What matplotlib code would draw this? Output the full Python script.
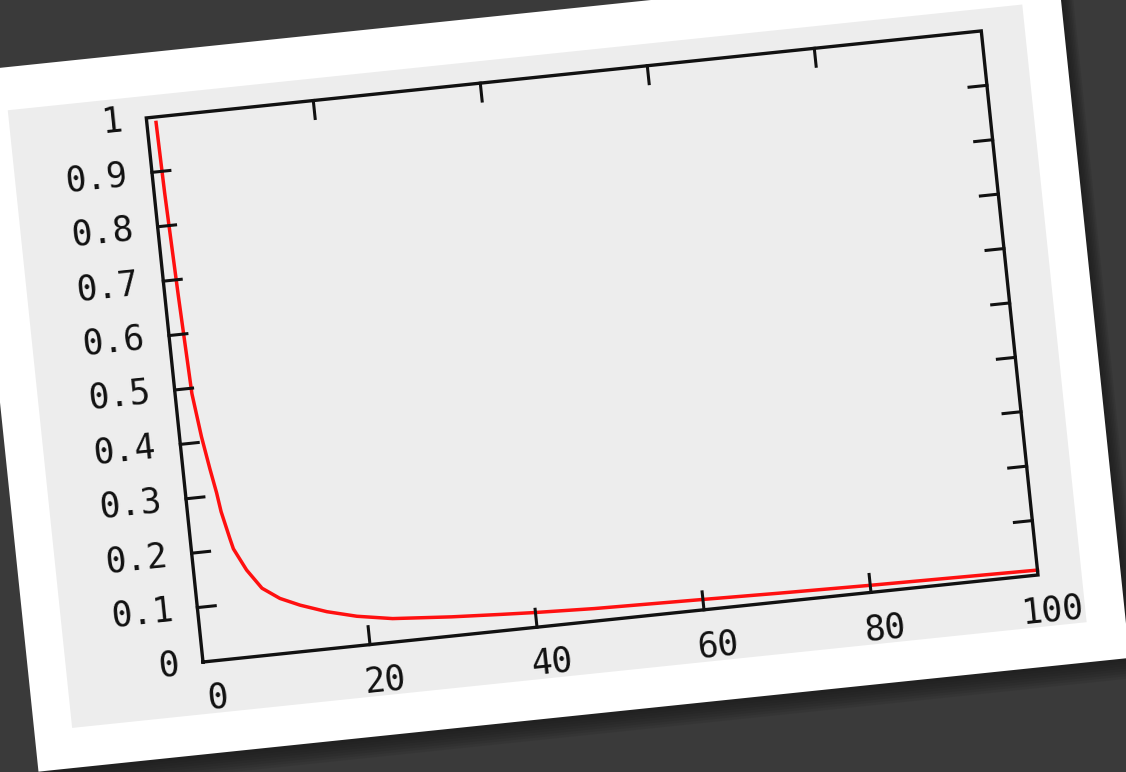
import numpy as np
import matplotlib
matplotlib.use('Agg')
from matplotlib import pyplot as plt
from matplotlib.transforms import Affine2D
from matplotlib.patches import Polygon

# values
x_curve = [1.1, 1.25, 1.6, 2.0, 2.6, 3.2, 3.7, 4.0, 4.7, 5.0, 6.3, 7.9, 9.9, 12.2,
           15.3, 18.8, 23, 30, 36, 40, 47, 60, 69, 80, 90, 100]
y_curve = [0.99, 0.86, 0.67, 0.49, 0.41, 0.35, 0.305, 0.27, 0.22, 0.2, 0.159, 0.123,
           0.101, 0.085, 0.068, 0.054, 0.043, 0.035, 0.03, 0.027, 0.023, 0.019, 0.016,
           0.013, 0.011, 0.009]

x_ticks = [0, 20, 40, 60, 80, 100]
x_labels = ['0', '20', '40', '60', '80', '100']
y_ticks = [0, 0.1, 0.2, 0.3, 0.4, 0.5, 0.6, 0.7, 0.8, 0.9, 1]
y_labels = ['0', '0.1', '0.2', '0.3', '0.4', '0.5', '0.6', '0.7', '0.8', '0.9', '1']

W, H = 1126, 772
theta = 5.95                 # tilt of the card, degrees
ox, oy = 203, 110            # plot corner (0,0) in pixels
pw, ph = 839.5, 547.0        # plot box size in pixels

fig = plt.figure(figsize=(W / 100, H / 100), dpi=100)
fig.patch.set_facecolor('#3a3a3a')

ax = fig.add_axes([ox / W, oy / H, pw / W, ph / H])
ax.set_xlim(0, 100)
ax.set_ylim(0, 1)
ax.axis('off')
ax.set_zorder(5)

rot = Affine2D().rotate_deg_around(ox, oy, theta)
tdata = ax.transData + rot
frame = Affine2D().rotate_deg(theta).translate(ox, oy)


def rect(u0, u1, v0, v1):
    return [(u0, v0), (u1, v0), (u1, v1), (u0, v1)]


# card shadow
for k in range(8):
    d = 3 + k * 2.5
    fig.add_artist(Polygon(rect(-175 + d * 0.6, 922 + d * 0.6, -92 - d, 612 - d),
                           closed=True, transform=frame, facecolor='#151515',
                           edgecolor='none', alpha=0.11, zorder=1))
# white card and grey panel
fig.add_artist(Polygon(rect(-175, 922, -92, 612), closed=True, transform=frame,
                       facecolor='white', edgecolor='none', zorder=2))
fig.add_artist(Polygon(rect(-137, 883, -52, 569), closed=True, transform=frame,
                       facecolor='#ededed', edgecolor='none', zorder=3))

# curve
ax.plot(x_curve, y_curve, color='#ff1010', lw=2.5, transform=tdata, clip_on=False,
        zorder=3, solid_joinstyle='round')

# border
ax.plot([0, 100, 100, 0, 0], [0, 0, 1, 1, 0], color='#111111', lw=2.4,
        transform=tdata, clip_on=False, zorder=4, solid_joinstyle='miter')

# ticks (18 px long, pointing inwards)
tx = 18 / pw * 100
ty = 18 / ph
for t in x_ticks[1:-1]:
    ax.plot([t, t], [0, ty], color='#111111', lw=2.2, transform=tdata, clip_on=False, zorder=4)
    ax.plot([t, t], [1, 1 - ty], color='#111111', lw=2.2, transform=tdata, clip_on=False, zorder=4)
for t in y_ticks[1:-1]:
    ax.plot([0, tx], [t, t], color='#111111', lw=2.2, transform=tdata, clip_on=False, zorder=4)
    ax.plot([100, 100 - tx], [t, t], color='#111111', lw=2.2, transform=tdata, clip_on=False, zorder=4)

# tick labels
font = dict(family='DejaVu Sans Mono', size=25, color='#111111')
for t, s in zip(y_ticks, y_labels):
    ax.text(0, t, s, transform=ax.transData + Affine2D().translate(-24, 0) + rot,
            rotation=theta, rotation_mode='anchor', ha='right', va='center',
            clip_on=False, **font)
for t, s in zip(x_ticks, x_labels):
    ax.text(t, 0, s, transform=ax.transData + Affine2D().translate(11, -37) + rot,
            rotation=theta, rotation_mode='anchor', ha='center', va='center',
            clip_on=False, **font)

fig.savefig('out.png', dpi=100, facecolor=fig.get_facecolor())
